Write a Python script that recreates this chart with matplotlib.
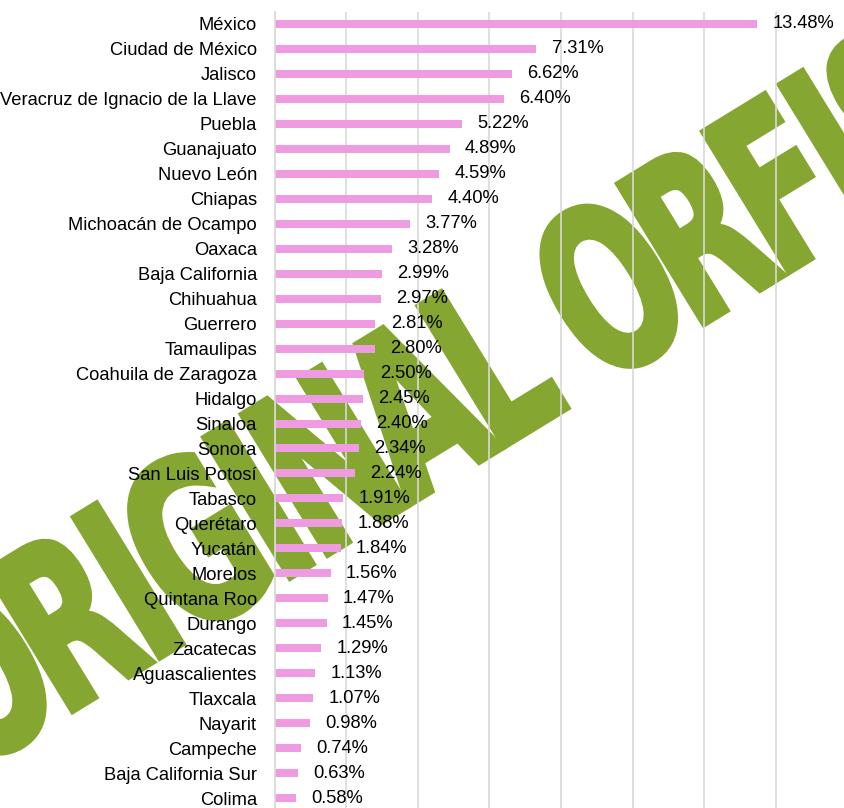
import matplotlib
matplotlib.use("Agg")
import matplotlib.pyplot as plt
from matplotlib.textpath import TextPath, text_to_path
from matplotlib.font_manager import FontProperties
from matplotlib.patches import PathPatch
from matplotlib.transforms import Affine2D, IdentityTransform

plt.rcParams['font.family'] = ['Liberation Sans', 'DejaVu Sans']

# datos
estados = ["México", "Ciudad de México", "Jalisco", "Veracruz de Ignacio de la Llave",
           "Puebla", "Guanajuato", "Nuevo León", "Chiapas", "Michoacán de Ocampo",
           "Oaxaca", "Baja California", "Chihuahua", "Guerrero", "Tamaulipas",
           "Coahuila de Zaragoza", "Hidalgo", "Sinaloa", "Sonora", "San Luis Potosí",
           "Tabasco", "Querétaro", "Yucatán", "Morelos", "Quintana Roo", "Durango",
           "Zacatecas", "Aguascalientes", "Tlaxcala", "Nayarit", "Campeche",
           "Baja California Sur", "Colima"]
porcentajes = [13.48, 7.31, 6.62, 6.40, 5.22, 4.89, 4.59, 4.40, 3.77, 3.28,
               2.99, 2.97, 2.81, 2.80, 2.50, 2.45, 2.40, 2.34, 2.24, 1.91,
               1.88, 1.84, 1.56, 1.47, 1.45, 1.29, 1.13, 1.07, 0.98, 0.74,
               0.63, 0.58]
marca = "ORIGINAL ORFIS"

W, H = 845, 808
fig = plt.figure(figsize=(W / 100, H / 100), dpi=100)

# marca de agua (detras de la grafica), letra por letra
fp = FontProperties(family="DejaVu Sans", weight="bold", size=100)

def centro(i):
    pre = text_to_path.get_text_width_height_descent(marca[:i], fp, False)[0] if i else 0
    ext = TextPath((0, 0), marca[i], size=100, prop=fp).get_extents()
    return pre + (ext.x0 + ext.x1) / 2

cap = TextPath((0, 0), "L", size=100, prop=fp).get_extents().height
cL, cF = centro(7), centro(11)
sy = 165 / cap
sx = 333 / (cF - cL)
rot = Affine2D().rotate_deg(31.5).translate(493, H - 357)
for i, ch in enumerate(marca):
    if ch == " ":
        continue
    g = TextPath((0, 0), ch, size=100, prop=fp)
    e = g.get_extents()
    gc = (e.x0 + e.x1) / 2
    tr = (Affine2D().translate(-gc, -cap / 2).scale(sx * 1.12, sy)
          .translate((centro(i) - cL) * sx, 0) + rot)
    fig.add_artist(PathPatch(tr.transform_path(g), facecolor="#85A631",
                             edgecolor="#85A631", linewidth=4, joinstyle="miter",
                             transform=IdentityTransform(), zorder=-5))

ax = fig.add_axes([275 / W, 0, 570 / W, 796 / H])
ax.set_facecolor("none")

y = list(range(len(estados)))
ax.barh(y, porcentajes, height=0.32, color="#EE9BE2", zorder=2)

for yi, v in zip(y, porcentajes):
    ax.annotate(f"{v:.2f}%", (v, yi), xytext=(11, 0), textcoords="offset points",
                va="center", ha="left", fontsize=13.2, color="black", zorder=3)

ax.set_xlim(0, 570 / 35.75)
ax.set_ylim((H - 24) / 24.97, -12 / 24.97)
ax.set_xticks(range(0, 16, 2))
ax.set_xticklabels([])
ax.tick_params(axis="x", length=0)
ax.set_yticks(y)
ax.set_yticklabels(estados, fontsize=13.2)
ax.tick_params(axis="y", length=0, pad=13)
ax.grid(axis="x", color="#D9D9D9", linewidth=1.2)
ax.set_axisbelow(True)
for s in ["top", "right", "bottom"]:
    ax.spines[s].set_visible(False)
ax.spines["left"].set_color("#D9D9D9")
ax.spines["left"].set_linewidth(1.2)

fig.savefig("out.png", dpi=100)
